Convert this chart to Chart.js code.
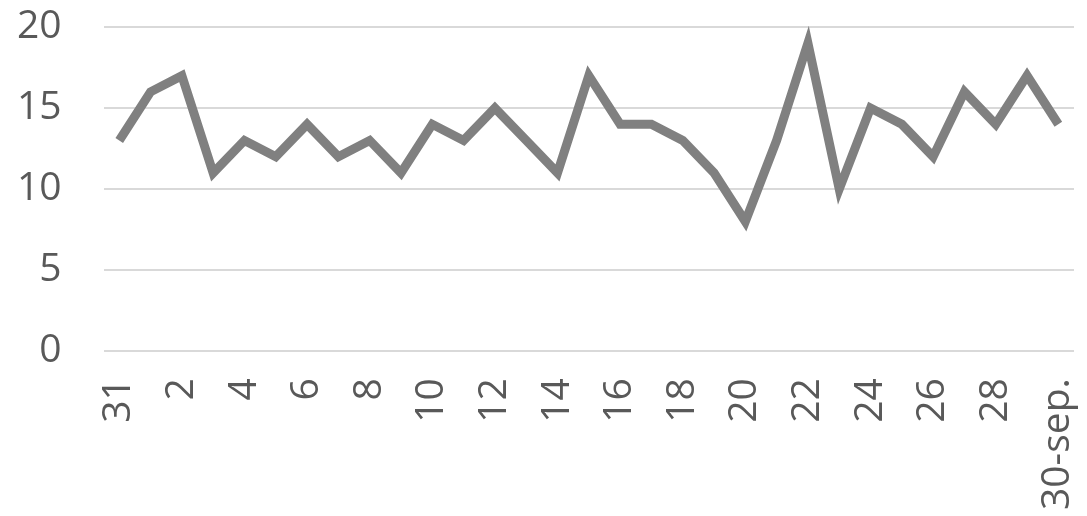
<!DOCTYPE html>
<html>
<head>
<meta charset="utf-8">
<script src="https://cdn.jsdelivr.net/npm/chart.js@4/dist/chart.umd.min.js"></script>
<style>
  html, body { margin: 0; padding: 0; background: #ffffff; }
  #wrap { width: 1087px; height: 516px; position: relative; }
</style>
</head>
<body>
<div id="wrap"><canvas id="c"></canvas></div>
<script>
// Daily values, 31 Aug through 30 Sep
const days = ['31','1','2','3','4','5','6','7','8','9','10','11','12','13','14','15',
              '16','17','18','19','20','21','22','23','24','25','26','27','28','29','30-sep.'];
const values = [13,16,17,11,13,12,14,12,13,11,14,13,15,13,11,17,
                14,14,13,11,8,13,19,10,15,14,12,16,14,17,14];
const yTicks = [0, 5, 10, 15, 20];

new Chart(document.getElementById('c'), {
  type: 'line',
  data: {
    labels: days,
    datasets: [{
      data: values,
      borderColor: '#808080',
      borderWidth: 9,
      pointRadius: 0,
      tension: 0,
      fill: false,
      borderJoinStyle: 'miter',
      borderCapStyle: 'butt',
      clip: 20
    }]
  },
  options: {
    responsive: true,
    maintainAspectRatio: false,
    animation: false,
    layout: { padding: { left: -25, right: 13, top: 27, bottom: -21 } },
    plugins: { legend: { display: false }, tooltip: { enabled: false } },
    scales: {
      x: {
        offset: true,
        grid: { display: false, drawTicks: false },
        border: { display: false },
        afterFit: function (s) { s.paddingLeft = 0; s.paddingRight = 0; },
        ticks: {
          autoSkip: false,
          maxRotation: 90,
          minRotation: 90,
          padding: 27,
          color: '#595959',
          font: { family: 'Open Sans', size: 39 },
          callback: function (v, i) { return i % 2 === 0 ? days[i] : ''; }
        }
      },
      y: {
        min: yTicks[0],
        max: yTicks[yTicks.length - 1],
        afterBuildTicks: function (axis) { axis.ticks = yTicks.map(v => ({ value: v })); },
        afterFit: function (s) { s.paddingTop = 0; s.paddingBottom = 0; },
        grid: { color: '#d9d9d9', lineWidth: 2, drawTicks: false },
        border: { display: false },
        ticks: {
          padding: 42,
          color: '#595959',
          font: { family: 'Open Sans', size: 39 }
        }
      }
    }
  }
});
</script>
</body>
</html>
